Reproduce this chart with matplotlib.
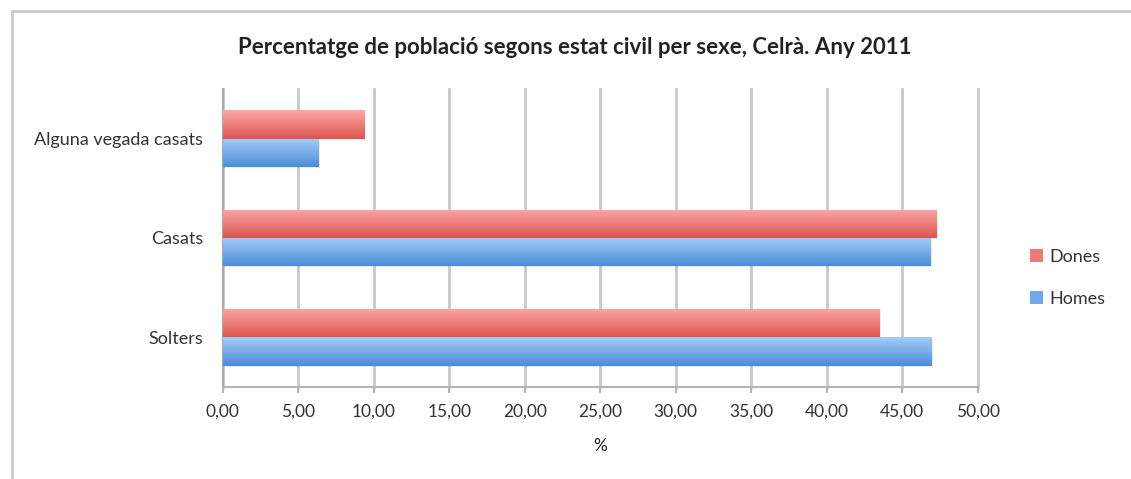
import matplotlib
matplotlib.use("Agg")
import matplotlib.pyplot as plt
import numpy as np
from matplotlib.patches import Rectangle, Patch
from matplotlib.colors import LinearSegmentedColormap

plt.rcParams['font.family'] = ['Lato', 'DejaVu Sans']

categories = ["Solters", "Casats", "Alguna vegada casats"]
homes = [46.95, 46.84, 6.33]
dones = [43.46, 47.24, 9.36]
xticks = [0, 5, 10, 15, 20, 25, 30, 35, 40, 45, 50]
xticklabels = ["0,00", "5,00", "10,00", "15,00", "20,00", "25,00", "30,00", "35,00", "40,00", "45,00", "50,00"]
title = "Percentatge de població segons estat civil per sexe, Celrà. Any 2011"

W, H = 1131, 479
fig = plt.figure(figsize=(W/100, H/100), dpi=100)
fig.patch.set_facecolor("white")

# outer frame
fig.add_artist(Rectangle((11.5/W, -0.1), 1.2, 1 - 11/H + 0.1, transform=fig.transFigure,
                         fill=False, edgecolor="#c8c8c8", linewidth=2.0))

ax = fig.add_axes([222.7/W, 1-387/H, (977.7-222.7)/W, (387-89)/H])
ax.set_xlim(0, 50)
ax.set_ylim(-0.5, 2.5)

y = np.arange(len(categories))
h = 0.284
red_cmap = LinearSegmentedColormap.from_list("r", ["#dc5550", "#fba8a6"])
blue_cmap = LinearSegmentedColormap.from_list("b", ["#4c8dd8", "#a6cbf8"])

def grad_bars(yy, vals, cmap, base):
    bars = ax.barh(yy, vals, height=h, color=base, edgecolor="none", zorder=3)
    for b in bars:
        x0, y0 = b.get_x(), b.get_y()
        w, hh = b.get_width(), b.get_height()
        ax.add_patch(Rectangle((x0, y0 - 0.012), w + 0.12, hh, facecolor="#000000", alpha=0.08,
                               edgecolor="none", zorder=2.5))
        grad = np.linspace(0, 1, 100).reshape(-1, 1)
        im = ax.imshow(grad, cmap=cmap, extent=[x0, x0 + w, y0, y0 + hh], origin="lower",
                       aspect="auto", zorder=3.5)
        im.set_clip_path(b)
    return bars

grad_bars(y + h/2, dones, red_cmap, "#ea7b77")
grad_bars(y - h/2, homes, blue_cmap, "#72a8ea")

ax.set_xticks(xticks)
ax.set_xticklabels(xticklabels)
ax.set_yticks(y)
ax.set_yticklabels(categories)
ax.xaxis.grid(True, color="#c8c8c8", linewidth=2.0, zorder=0)
for gl in ax.get_xgridlines():
    gl.set_clip_on(False)
ax.set_axisbelow(True)
for s in ["top", "right"]:
    ax.spines[s].set_visible(False)
ax.spines["left"].set_color("#aaaaaa")
ax.spines["left"].set_linewidth(1.5)
ax.spines["bottom"].set_color("#b4b4b4")
ax.spines["bottom"].set_linewidth(1.5)
ax.tick_params(axis="y", length=0, pad=14.0, labelsize=13, labelcolor="#333333")
ax.tick_params(axis="x", length=4, width=1.5, color="#b4b4b4", pad=8, labelsize=12.5, labelcolor="#333333")
ax.set_xlabel("%", fontsize=12.5, color="#222222", labelpad=13)

fig.text(575/W, 1-48/H, title, ha="center", va="center", fontsize=16, fontweight="bold", color="#222222")

handles = [Patch(facecolor="#ea7b77", edgecolor="none"), Patch(facecolor="#72a8ea", edgecolor="none")]
leg = fig.legend(handles, ["Dones", "Homes"], loc="center left", bbox_to_anchor=(1030/W, 1-278/H),
                 frameon=False, fontsize=13, handlelength=0.7, handleheight=0.7,
                 handletextpad=0.35, labelspacing=1.45, borderpad=0, borderaxespad=0)
for t in leg.get_texts():
    t.set_color("#333333")

fig.savefig("out.png", dpi=100, facecolor="white")
